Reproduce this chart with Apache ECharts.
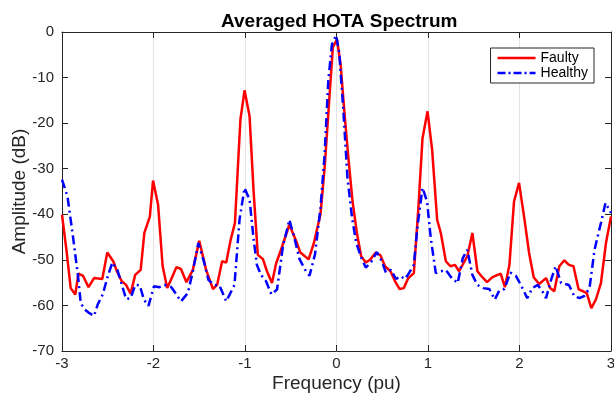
<!DOCTYPE html>
<html>
<head>
<meta charset="utf-8">
<script src="https://cdn.jsdelivr.net/npm/echarts@6/dist/echarts.min.js"></script>
<style>html,body{margin:0;padding:0;background:#fff;}#c{width:614px;height:394px;}</style>
</head>
<body>
<div id="c"></div>
<script>
var titleText = 'Averaged HOTA Spectrum';
var xName = 'Frequency (pu)';
var yName = 'Amplitude (dB)';
var seriesNames = ['Faulty', 'Healthy'];

var faultyFreq = [-3.00,-2.95,-2.905,-2.855,-2.82,-2.77,-2.71,-2.65,-2.56,-2.505,-2.44,-2.40,-2.35,-2.30,-2.25,-2.20,-2.14,-2.10,-2.04,-2.005,-1.95,-1.90,-1.85,-1.81,-1.75,-1.70,-1.64,-1.57,-1.50,-1.425,-1.35,-1.305,-1.25,-1.205,-1.16,-1.11,-1.05,-1.005,-0.95,-0.905,-0.86,-0.805,-0.76,-0.705,-0.66,-0.60,-0.515,-0.44,-0.395,-0.305,-0.25,-0.175,-0.13,-0.08,-0.04,0.005,0.045,0.085,0.13,0.175,0.225,0.27,0.32,0.37,0.43,0.48,0.53,0.59,0.64,0.69,0.735,0.785,0.845,0.895,0.94,0.995,1.045,1.10,1.14,1.195,1.245,1.295,1.34,1.43,1.485,1.54,1.585,1.645,1.705,1.795,1.84,1.89,1.94,1.995,2.05,2.105,2.155,2.215,2.29,2.335,2.38,2.435,2.49,2.54,2.59,2.645,2.735,2.785,2.835,2.89,2.945,3.00];
var faultyDb = [-40.1,-48.1,-56.2,-57.6,-53.0,-53.5,-56.0,-54.0,-54.2,-48.4,-50.3,-52.5,-54.6,-55.5,-57.4,-53.3,-52.2,-44.1,-40.5,-32.6,-37.9,-51.4,-56.2,-54.4,-51.6,-52.0,-54.9,-52.2,-45.8,-52.2,-56.4,-55.5,-50.3,-50.6,-45.9,-41.9,-19.2,-12.8,-18.5,-35.3,-48.9,-49.8,-52.5,-55.1,-50.8,-47.4,-42.3,-45.9,-48.4,-49.9,-46.5,-40.0,-29.8,-15.1,-3.4,-1.6,-7.1,-17.3,-27.6,-37.1,-44.4,-49.2,-50.6,-49.9,-48.4,-49.0,-51.4,-52.5,-54.7,-56.4,-56.2,-54.0,-52.9,-38.6,-23.3,-17.4,-25.8,-41.2,-44.1,-50.3,-51.4,-51.1,-52.5,-49.2,-44.1,-52.5,-53.6,-54.9,-53.8,-53.0,-56.0,-51.1,-37.2,-33.1,-40.5,-48.5,-53.8,-55.3,-54.0,-56.2,-56.9,-51.4,-50.1,-51.1,-51.4,-56.4,-57.3,-60.6,-58.7,-55.1,-46.3,-40.5];

var healthyFreq = [-3.00,-2.94,-2.88,-2.825,-2.795,-2.75,-2.70,-2.65,-2.61,-2.555,-2.50,-2.45,-2.395,-2.345,-2.30,-2.25,-2.20,-2.15,-2.105,-2.055,-1.995,-1.935,-1.88,-1.805,-1.75,-1.70,-1.625,-1.57,-1.51,-1.45,-1.40,-1.34,-1.28,-1.205,-1.115,-1.06,-1.005,-0.95,-0.905,-0.87,-0.825,-0.77,-0.71,-0.65,-0.585,-0.515,-0.46,-0.405,-0.345,-0.295,-0.235,-0.175,-0.13,-0.09,-0.05,-0.005,0.03,0.075,0.12,0.17,0.215,0.27,0.32,0.385,0.44,0.495,0.54,0.595,0.65,0.70,0.75,0.795,0.845,0.885,0.94,0.99,1.03,1.085,1.14,1.195,1.26,1.325,1.38,1.43,1.485,1.54,1.605,1.67,1.73,1.78,1.835,1.90,1.96,2.015,2.085,2.14,2.20,2.25,2.29,2.345,2.395,2.455,2.54,2.60,2.655,2.71,2.765,2.82,2.89,2.94,3.00];
var healthyDb = [-32.4,-36.1,-44.9,-53.6,-59.5,-60.9,-61.7,-62.3,-59.8,-57.6,-53.6,-50.6,-52.2,-55.5,-58.6,-58.4,-55.5,-55.6,-58.7,-60.1,-55.8,-56.0,-55.5,-56.0,-57.6,-59.1,-57.3,-52.5,-46.3,-50.3,-54.4,-55.5,-55.6,-59.1,-55.5,-41.2,-34.2,-36.8,-45.6,-51.1,-53.3,-54.7,-57.6,-56.5,-47.0,-41.2,-45.2,-49.8,-52.1,-53.5,-48.8,-38.6,-26.9,-10.8,-2.7,-0.7,-4.5,-17.3,-32.0,-40.8,-46.2,-49.5,-51.7,-50.3,-48.3,-50.3,-52.8,-52.2,-54.2,-53.6,-54.2,-52.8,-51.1,-42.7,-34.2,-37.2,-45.2,-52.9,-52.5,-52.2,-54.0,-55.1,-49.6,-47.8,-53.3,-55.5,-56.2,-56.4,-58.7,-56.7,-56.4,-52.8,-53.5,-55.5,-58.4,-56.2,-55.5,-56.9,-58.4,-54.4,-51.4,-55.1,-55.5,-58.0,-58.4,-57.9,-56.2,-47.8,-41.9,-37.5,-39.7];

function pairs(xs, ys) { return xs.map(function (x, i) { return [x, ys[i]]; }); }

var FONT = '"Liberation Sans", Arial, Helvetica, sans-serif';
var AX = '#262626';

// legend line samples (solid and dash-dot)
var solidIcon = 'path://M0,0h38v2.6h-38z';
var dashDotIcon = 'path://M0,0h8v2.6h-8z M11,0h2v2.6h-2z M16,0h8v2.6h-8z M27,0h2v2.6h-2z M32,0h6v2.6h-6z';

function boxAxis(extra) {
  var base = {
    type: 'value',
    axisLine: { show: true, onZero: false, lineStyle: { color: AX, width: 1 } },
    axisTick: { show: true, inside: true, length: 6, lineStyle: { color: AX } },
    axisLabel: { show: false },
    splitLine: { show: false }
  };
  return Object.assign(base, extra);
}

var chart = echarts.init(document.getElementById('c'), null, { renderer: 'canvas' });
chart.setOption({
  animation: false,
  backgroundColor: '#ffffff',
  title: {
    text: titleText, left: 216, top: 7,
    textStyle: { fontFamily: FONT, fontWeight: 'bold', fontSize: 19, color: '#000' }
  },
  legend: {
    data: [
      { name: seriesNames[0], icon: solidIcon, itemStyle: { color: '#ff0000' } },
      { name: seriesNames[1], icon: dashDotIcon, itemStyle: { color: '#0000ff' } }
    ],
    orient: 'vertical', right: 20, top: 48,
    itemWidth: 38, itemHeight: 12, itemGap: 1,
    padding: [3, 6, 3, 7],
    borderColor: '#262626', borderWidth: 1, backgroundColor: '#fff', borderRadius: 0,
    textStyle: { fontFamily: FONT, fontSize: 14, color: '#000', lineHeight: 14 }
  },
  grid: { left: 62, right: 3, top: 32, bottom: 43, containLabel: false, outerBoundsMode: 'none' },
  xAxis: [boxAxis({
    min: -3, max: 3, interval: 1, position: 'bottom',
    name: xName, nameLocation: 'middle', nameGap: 23, nameMoveOverlap: false,
    nameTextStyle: { fontFamily: FONT, fontSize: 19, color: AX },
    axisLabel: { show: true, fontFamily: FONT, fontSize: 15, color: AX, margin: 5 },
    splitLine: { show: true, lineStyle: { color: '#e3e3e3', width: 1 } }
  }), boxAxis({ min: -3, max: 3, interval: 1, position: 'top' })],
  yAxis: [boxAxis({
    min: -70, max: 0, interval: 10, position: 'left',
    name: yName, nameLocation: 'middle', nameGap: 33, nameRotate: 90, nameMoveOverlap: false,
    nameTextStyle: { fontFamily: FONT, fontSize: 19, color: AX },
    axisLabel: { show: true, fontFamily: FONT, fontSize: 15, color: AX, margin: 8 }
  }), boxAxis({ min: -70, max: 0, interval: 10, position: 'right' })],
  series: [{
    name: seriesNames[0], type: 'line', data: pairs(faultyFreq, faultyDb),
    xAxisIndex: 0, yAxisIndex: 0,
    showSymbol: false, symbol: 'none', color: '#ff0000',
    lineStyle: { color: '#ff0000', width: 2.5, type: 'solid' }, z: 3
  }, {
    name: seriesNames[1], type: 'line', data: pairs(healthyFreq, healthyDb),
    xAxisIndex: 0, yAxisIndex: 0,
    showSymbol: false, symbol: 'none', color: '#0000ff',
    lineStyle: { color: '#0000ff', width: 2.5, type: [9, 4, 2, 4] }, z: 4
  }]
});
</script>
</body>
</html>
